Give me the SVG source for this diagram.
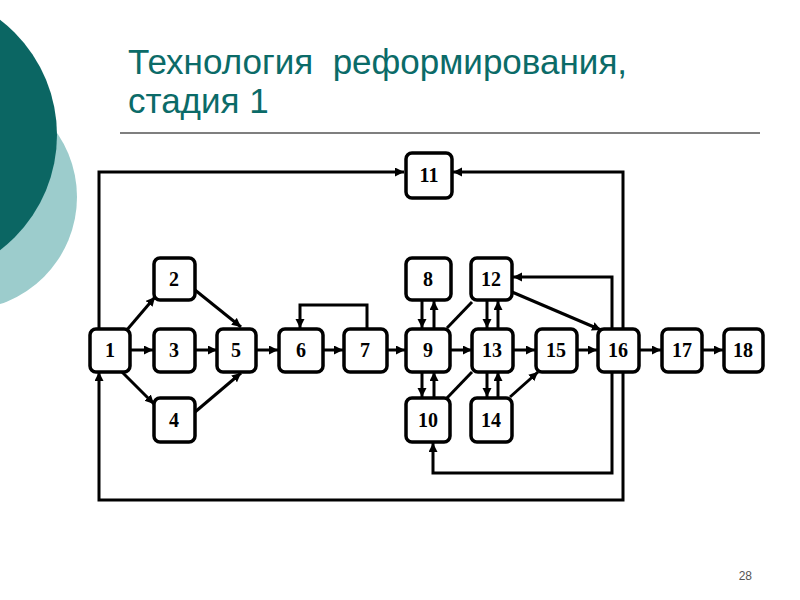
<svg xmlns="http://www.w3.org/2000/svg" width="800" height="600" viewBox="0 0 800 600">
<style>
.node rect{fill:#fff;stroke:#000;stroke-width:3.5}
.node text{font-family:"Liberation Serif",serif;font-size:20px;font-weight:bold;text-anchor:middle;fill:#000}
.c{fill:none;stroke:#000;stroke-width:3}
.arr{marker-end:url(#ah)}
.title{font-family:"Liberation Sans",Arial,sans-serif;font-size:35px;fill:#0b6b68;white-space:pre}
</style>
<defs>
<marker id="ah" markerUnits="userSpaceOnUse" markerWidth="10" markerHeight="10" refX="9" refY="4.5" orient="auto">
<path d="M0,0 L9,4.5 L0,9 z" fill="#000"/>
</marker>
</defs>
<rect width="800" height="600" fill="#fff"/>
<circle cx="-36" cy="197" r="113" fill="#9ccccc"/>
<circle cx="-88" cy="135" r="145" fill="#0b6663"/>
<text class="title" x="128" y="74" xml:space="preserve">Технология  реформирования,</text>
<text class="title" x="128" y="113">стадия 1</text>
<line x1="120" y1="133" x2="760" y2="133" stroke="#000" stroke-width="1.2"/>
<text x="752" y="580" font-family="Liberation Sans,Arial,sans-serif" font-size="12" fill="#555" text-anchor="end">28</text>
<g id="connectors">
<path class="c arr" d="M99,330 L99,172 L404,172"/>
<path class="c arr" d="M623,330 L623,172 L453,172"/>
<path class="c arr" d="M612,328 L612,277 L513,277"/>
<path class="c arr" d="M612,372 L612,473 L433,473 L433,443"/>
<path class="c arr" d="M623,372 L623,500 L99,500 L99,372"/>
<path class="c arr" d="M126,331 L155,297"/>
<path class="c arr" d="M130,350 L153,350"/>
<path class="c arr" d="M122,372 L154,404"/>
<path class="c arr" d="M195,290 L241,327"/>
<path class="c arr" d="M195,350 L217,350"/>
<path class="c arr" d="M195,412 L241,373"/>
<path class="c arr" d="M256,350 L278,350"/>
<path class="c arr" d="M323,350 L343,350"/>
<path class="c arr" d="M367,328 L367,305 L300,305 L300,328"/>
<path class="c arr" d="M387,350 L405,350"/>
<path class="c arr" d="M422,301 L422,328"/>
<path class="c arr" d="M434,328 L434,301"/>
<path class="c arr" d="M422,372 L422,397"/>
<path class="c arr" d="M434,397 L434,372"/>
<path class="c arr" d="M487,301 L487,328"/>
<path class="c arr" d="M498,328 L498,301"/>
<path class="c arr" d="M487,372 L487,397"/>
<path class="c arr" d="M498,397 L498,372"/>
<path class="c arr" d="M450,350 L472,350"/>
<path class="c" d="M447,328 L472,302"/>
<path class="c" d="M447,398 L472,372"/>
<path class="c arr" d="M510,397 L538,372"/>
<path class="c arr" d="M513,350 L535,350"/>
<path class="c arr" d="M577,350 L597,350"/>
<path class="c arr" d="M512,292 L601,330"/>
<path class="c arr" d="M640,350 L661,350"/>
<path class="c arr" d="M702,350 L723,350"/>
</g>
<g id="n1" class="node"><rect x="90" y="329" width="40" height="43" rx="6"/><text x="110" y="357">1</text></g>
<g id="n2" class="node"><rect x="154" y="258" width="41" height="42" rx="6"/><text x="174" y="286">2</text></g>
<g id="n3" class="node"><rect x="154" y="329" width="41" height="43" rx="6"/><text x="174" y="357">3</text></g>
<g id="n4" class="node"><rect x="154" y="398" width="41" height="44" rx="6"/><text x="174" y="427">4</text></g>
<g id="n5" class="node"><rect x="217" y="329" width="39" height="43" rx="6"/><text x="236" y="357">5</text></g>
<g id="n6" class="node"><rect x="279" y="329" width="44" height="43" rx="6"/><text x="301" y="357">6</text></g>
<g id="n7" class="node"><rect x="344" y="329" width="43" height="43" rx="6"/><text x="365" y="357">7</text></g>
<g id="n8" class="node"><rect x="406" y="258" width="45" height="42" rx="6"/><text x="428" y="286">8</text></g>
<g id="n9" class="node"><rect x="406" y="329" width="44" height="43" rx="6"/><text x="428" y="357">9</text></g>
<g id="n10" class="node"><rect x="406" y="398" width="44" height="44" rx="6"/><text x="428" y="427">10</text></g>
<g id="n11" class="node"><rect x="406" y="153" width="46" height="45" rx="6"/><text x="429" y="182">11</text></g>
<g id="n12" class="node"><rect x="471" y="258" width="41" height="42" rx="6"/><text x="491" y="286">12</text></g>
<g id="n13" class="node"><rect x="472" y="329" width="41" height="43" rx="6"/><text x="492" y="357">13</text></g>
<g id="n14" class="node"><rect x="471" y="398" width="41" height="44" rx="6"/><text x="491" y="427">14</text></g>
<g id="n15" class="node"><rect x="536" y="329" width="41" height="43" rx="6"/><text x="556" y="357">15</text></g>
<g id="n16" class="node"><rect x="598" y="329" width="41" height="43" rx="6"/><text x="618" y="357">16</text></g>
<g id="n17" class="node"><rect x="662" y="329" width="40" height="43" rx="6"/><text x="682" y="357">17</text></g>
<g id="n18" class="node"><rect x="724" y="329" width="39" height="43" rx="6"/><text x="743" y="357">18</text></g>
</svg>
